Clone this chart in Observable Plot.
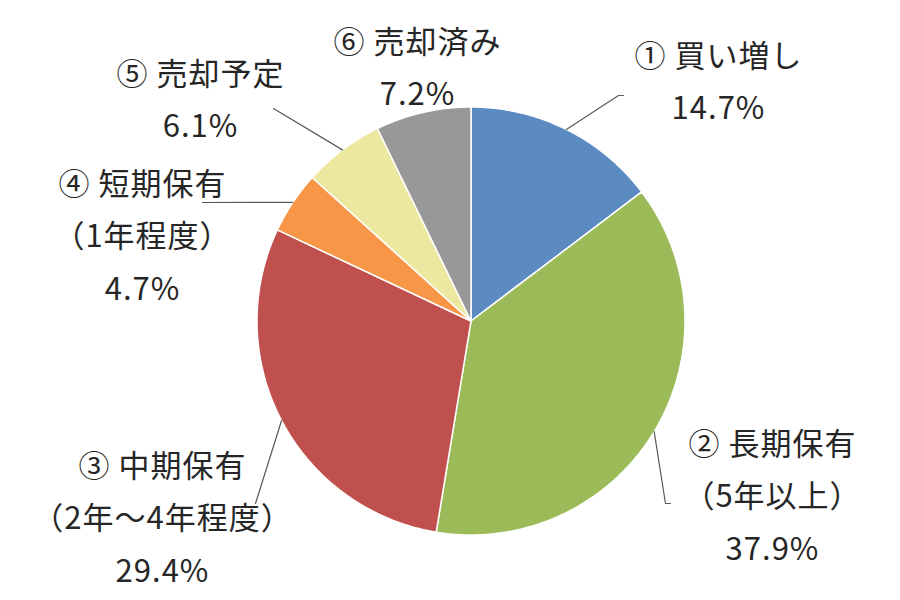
<!DOCTYPE html>
<html>
<head>
<meta charset="utf-8">
<script src="https://cdn.jsdelivr.net/npm/d3@7"></script>
<script src="https://cdn.jsdelivr.net/npm/@observablehq/plot@0.6"></script>
<style>
  html, body { margin: 0; padding: 0; background: #ffffff; }
  #chart { width: 900px; height: 600px; }
  #chart text { letter-spacing: 1px; }
</style>
</head>
<body>
<div id="chart"></div>
<script>
// ---- data ----
const categories = ["① 買い増し", "② 長期保有\n（5年以上）", "③ 中期保有\n（2年～4年程度）", "④ 短期保有\n（1年程度）", "⑤ 売却予定", "⑥ 売却済み"];
const shares = [14.7, 37.9, 29.4, 4.7, 6.1, 7.2];
const sliceColors = ["#5B8BC0", "#9BBB59", "#C0504D", "#F79646", "#EDE8A0", "#989898"];

// ---- layout (pixels) ----
const cx = 470.5, cy = 320.5, R = 214;
const labelAt = [[718, 76], [772, 490], [162, 512], [142, 230], [200, 94], [417, 62]];
const leaderEnds = [[[618, 95], [623, 95]], [[665, 503], [670, 503]], [[255, 503]], [[202, 202]], [[273, 108]], null];

const arcs = d3.pie().sort(null).value(d => d)(shares);
const pt = (a, r) => [cx + r * Math.sin(a), cy - r * Math.cos(a)];

const slicePts = [];
arcs.forEach((a, i) => {
  const n = Math.max(2, Math.ceil((a.endAngle - a.startAngle) / (Math.PI / 360)));
  slicePts.push({k: categories[i], x: cx, y: cy});
  for (let j = 0; j <= n; j++) {
    const [x, y] = pt(a.startAngle + (a.endAngle - a.startAngle) * j / n, R);
    slicePts.push({k: categories[i], x, y});
  }
});

const leaderPts = [];
arcs.forEach((a, i) => {
  if (!leaderEnds[i]) return;
  const mid = (a.startAngle + a.endAngle) / 2;
  const [x0, y0] = pt(mid, R);
  leaderPts.push({k: i, x: x0, y: y0});
  leaderEnds[i].forEach(([x, y]) => leaderPts.push({k: i, x, y}));
});

const labels = categories.map((c, i) => ({
  text: c + "\n" + shares[i].toFixed(1) + "%",
  x: labelAt[i][0], y: labelAt[i][1]
}));

const chart = Plot.plot({
  width: 900,
  height: 600,
  margin: 0,
  x: {domain: [0, 900], range: [0, 900], axis: null},
  y: {domain: [0, 600], range: [0, 600], axis: null},
  color: {domain: categories, range: sliceColors},
  style: {background: "#ffffff"},
  marks: [
    Plot.line(slicePts, {x: "x", y: "y", z: "k", fill: "k", stroke: "#ffffff", strokeWidth: 1.5, curve: "linear-closed"}),
    Plot.line(leaderPts, {x: "x", y: "y", z: "k", stroke: "#595959", strokeWidth: 1.2}),
    Plot.text(labels, {
      x: "x", y: "y", text: "text",
      fontSize: 31, fontFamily: "Noto Sans CJK JP", fill: "#262626",
      lineHeight: 1.69, textAnchor: "middle", lineAnchor: "middle"
    })
  ]
});
document.getElementById("chart").appendChild(chart);
</script>
</body>
</html>
